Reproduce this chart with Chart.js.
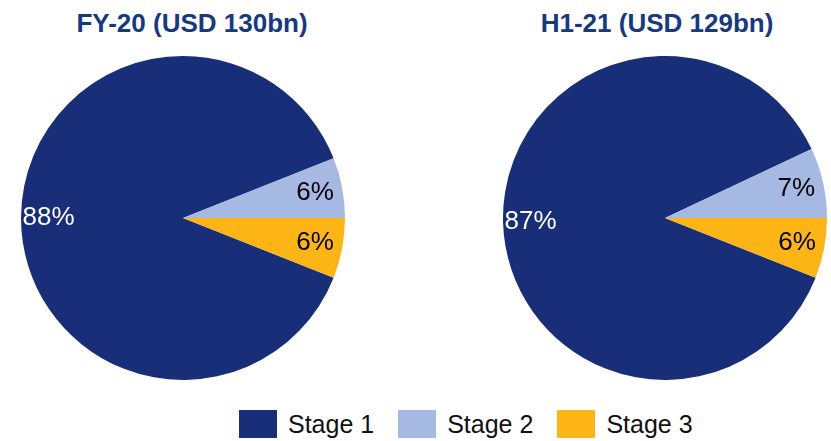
<!DOCTYPE html>
<html>
<head>
<meta charset="utf-8">
<script src="https://cdn.jsdelivr.net/npm/chart.js@4/dist/chart.umd.min.js"></script>
<style>
  body { margin: 0; background: #fff; font-family: "Liberation Sans", Arial, sans-serif; }
  #wrap { position: relative; width: 831px; height: 441px; overflow: hidden; }
  .titulo { position: absolute; top: 10px; width: 300px; text-align: center;
            font-weight: bold; font-size: 26px; line-height: 26px; color: #163a82; }
  canvas { position: absolute; }
  #leyenda { position: absolute; left: 239px; top: 410px; display: flex; gap: 24px; }
  .item { display: flex; align-items: center; height: 28px; }
  .caja { width: 38px; height: 28px; margin-right: 11px; }
  .item span { font-size: 25px; color: #111; line-height: 28px; }
</style>
</head>
<body>
<div id="wrap">
  <div class="titulo" id="titulo1" style="left:42px"></div>
  <div class="titulo" id="titulo2" style="left:507px"></div>
  <canvas id="torta1" width="324" height="324" style="left:21px;top:56px"></canvas>
  <canvas id="torta2" width="324" height="324" style="left:503px;top:56px"></canvas>
  <div id="leyenda"></div>
</div>
<script>
// Datos de cada gráfico
const etapas = ["Stage 1", "Stage 2", "Stage 3"];
const titulos = ["FY-20 (USD 130bn)", "H1-21 (USD 129bn)"];
const valoresFY20 = [88, 6, 6];
const valoresH121 = [87, 7, 6];
const colores = ["#182e79", "#a6b9e2", "#fdb515"];
const coloresTexto = ["#ffffff", "#000000", "#000000"];

// Plugin para escribir el porcentaje dentro de cada porción
const etiquetasPorcentaje = {
  id: "etiquetasPorcentaje",
  afterDatasetsDraw(chart) {
    const ctx = chart.ctx;
    const datos = chart.data.datasets[0].data;
    chart.getDatasetMeta(0).data.forEach((arco, i) => {
      const medio = (arco.startAngle + arco.endAngle) / 2;
      const r = arco.outerRadius * 0.83;
      const x = arco.x + Math.cos(medio) * r;
      const y = arco.y + Math.sin(medio) * r;
      ctx.save();
      ctx.font = "26px 'Liberation Sans', Arial, sans-serif";
      ctx.fillStyle = coloresTexto[i];
      ctx.textAlign = "center";
      ctx.textBaseline = "middle";
      ctx.fillText(datos[i] + "%", x, y);
      ctx.restore();
    });
  }
};

function crearTorta(idCanvas, valores) {
  const total = valores.reduce((a, b) => a + b, 0);
  // Girar para que el borde entre Stage 2 y Stage 3 quede horizontal a la derecha
  const rotacion = 90 - ((valores[0] + valores[1]) / total) * 360;
  return new Chart(document.getElementById(idCanvas), {
    type: "pie",
    data: {
      labels: etapas,
      datasets: [{ data: valores, backgroundColor: colores, borderWidth: 0 }]
    },
    options: {
      responsive: false,
      animation: false,
      rotation: rotacion,
      layout: { padding: 0 },
      plugins: { legend: { display: false }, tooltip: { enabled: false } }
    },
    plugins: [etiquetasPorcentaje]
  });
}

document.getElementById("titulo1").textContent = titulos[0];
document.getElementById("titulo2").textContent = titulos[1];
crearTorta("torta1", valoresFY20);
crearTorta("torta2", valoresH121);

// Leyenda común
const leyenda = document.getElementById("leyenda");
etapas.forEach((etapa, i) => {
  const item = document.createElement("div");
  item.className = "item";
  const caja = document.createElement("div");
  caja.className = "caja";
  caja.style.background = colores[i];
  const texto = document.createElement("span");
  texto.textContent = etapa;
  item.appendChild(caja);
  item.appendChild(texto);
  leyenda.appendChild(item);
});
</script>
</body>
</html>
